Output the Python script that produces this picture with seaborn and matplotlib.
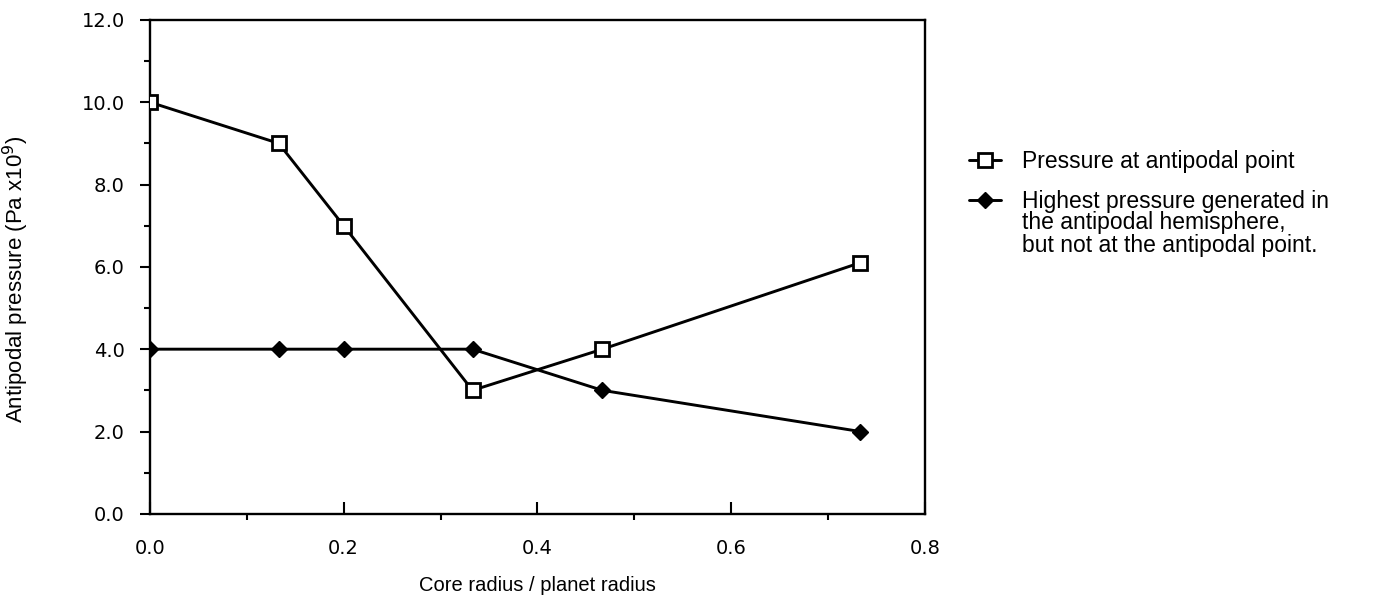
import matplotlib
matplotlib.use("Agg")
import matplotlib.pyplot as plt
from matplotlib.ticker import MultipleLocator, FormatStrFormatter
import numpy as np
import pandas as pd
import seaborn as sns

# Core size relative to planet size
core_ratio = [0.0, 0.133, 0.2, 0.333, 0.467, 0.733]

# Pressure at the antipodal point (Pa x10^9)
antipodal_pressure = [10.0, 9.0, 7.0, 3.0, 4.0, 6.1]

# Highest pressure elsewhere in the antipodal hemisphere (Pa x10^9)
hemisphere_peak = [4.0, 4.0, 4.0, 4.0, 3.0, 2.0]

series_labels = [
    "Pressure at antipodal point",
    "Highest pressure generated in",
]
series_label_extra = "the antipodal hemisphere,\nbut not at the antipodal point."

x_ticks = [0.0, 0.2, 0.4, 0.6, 0.8]
y_ticks = [0.0, 2.0, 4.0, 6.0, 8.0, 10.0, 12.0]

sns.set_style("ticks")
plt.rcParams["font.family"] = ["Liberation Sans", "DejaVu Sans"]
plt.rcParams["text.color"] = "black"
plt.rcParams["axes.labelcolor"] = "black"
plt.rcParams["xtick.color"] = "black"
plt.rcParams["ytick.color"] = "black"

df_a = pd.DataFrame({"ratio": core_ratio, "pressure": antipodal_pressure})
df_b = pd.DataFrame({"ratio": core_ratio, "pressure": hemisphere_peak})

fig = plt.figure(figsize=(13.87, 6.01), dpi=100)
ax = fig.add_axes([0.108, 0.145, 0.559, 0.822])

sns.lineplot(data=df_a, x="ratio", y="pressure", ax=ax, color="black",
             linewidth=2.1, marker="s", markersize=9.5, markerfacecolor="white",
             markeredgecolor="black", markeredgewidth=2.0,
             label=series_labels[0], zorder=3)
sns.lineplot(data=df_b, x="ratio", y="pressure", ax=ax, color="black",
             linewidth=2.1, marker="D", markersize=8.5, markerfacecolor="black",
             markeredgecolor="black", markeredgewidth=1.0,
             label=series_labels[1], zorder=3)

ax.set_xlim(0.0, 0.8)
ax.set_ylim(0.0, 12.0)
ax.set_xticks(x_ticks)
ax.set_yticks(y_ticks)
ax.xaxis.set_minor_locator(MultipleLocator(0.1))
ax.yaxis.set_minor_locator(MultipleLocator(1.0))
ax.xaxis.set_major_formatter(FormatStrFormatter("%.1f"))
ax.yaxis.set_major_formatter(FormatStrFormatter("%.1f"))

for side in ["top", "right", "left", "bottom"]:
    ax.spines[side].set_visible(True)
    ax.spines[side].set_linewidth(1.7)
    ax.spines[side].set_color("black")

ax.tick_params(axis="x", which="major", direction="in", length=9, width=1.5,
               pad=18, labelsize=14)
ax.tick_params(axis="x", which="minor", direction="out", length=4, width=1.5)
ax.tick_params(axis="y", which="major", direction="out", length=7, width=1.5,
               pad=11, labelsize=14)
ax.tick_params(axis="y", which="minor", direction="out", length=4, width=1.5)
for lbl in ax.get_xticklabels() + ax.get_yticklabels():
    lbl.set_fontfamily("DejaVu Sans")

ax.set_xlabel("Core radius / planet radius", fontsize=14.5, labelpad=13)
ax.set_ylabel("Antipodal pressure (Pa x10$^{9}$)", fontsize=16)
ax.yaxis.set_label_coords(-0.153, 0.474)

leg = ax.legend(loc="upper left", bbox_to_anchor=(960 / 1387, 1 - 141 / 601),
                bbox_transform=fig.transFigure, frameon=False, fontsize=16.5,
                handlelength=1.4, handletextpad=0.9, labelspacing=0.75,
                borderaxespad=0)

# continuation lines of the second legend entry, set under its first line
fig.canvas.draw()
renderer = fig.canvas.get_renderer()
bb = leg.get_texts()[1].get_window_extent(renderer)
x0, y0 = fig.transFigure.inverted().transform((bb.x0, bb.y0))
fig.text(x0, y0 + 0.004, series_label_extra, fontsize=16.5, ha="left", va="top",
         linespacing=0.98)

fig.savefig("out.png", dpi=100)
